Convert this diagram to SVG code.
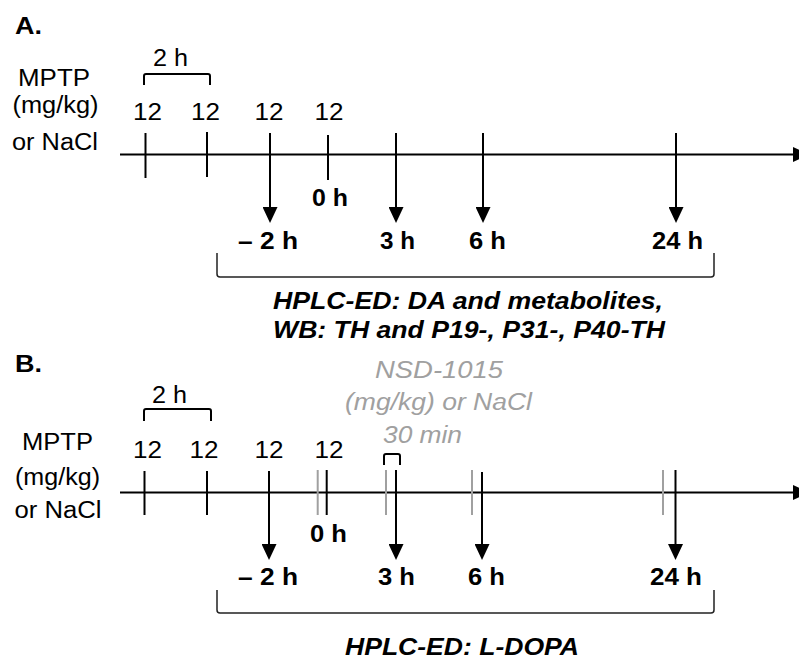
<svg xmlns="http://www.w3.org/2000/svg" width="799" height="661" viewBox="0 0 799 661">
<style>
text{font-family:"Liberation Sans",Arial,sans-serif;fill:#000}
.lab{font-size:23px}
.b{font-size:23px;font-weight:bold}
.bi{font-size:23px;font-weight:bold;font-style:italic}
.g{font-size:23px;font-style:italic;fill:#a0a0a0}
.c{text-anchor:middle}
.ln{stroke:#000;stroke-width:2;fill:none}
.gr{stroke:#a0a0a0;stroke-width:2;fill:none}
.br{stroke:#222;stroke-width:1.5;fill:none}
.ar{stroke:#000;stroke-width:2;fill:none;marker-end:url(#ah)}
</style>
<defs>
<marker id="ah" markerUnits="userSpaceOnUse" markerWidth="16" markerHeight="15" refX="13" refY="7.5" orient="auto">
<path d="M0,0 L16,7.5 L0,15 z" fill="#000"/>
</marker>
</defs>
<rect width="799" height="661" fill="#fff"/>

<g id="panelA">
<g id="A-title"><text class="b" x="15" y="34" textLength="27" lengthAdjust="spacingAndGlyphs">A.</text></g>
<g id="A-mptp">
<text class="lab c" x="54" y="86" textLength="72" lengthAdjust="spacingAndGlyphs">MPTP</text>
<text class="lab c" x="55.5" y="113" textLength="86" lengthAdjust="spacingAndGlyphs">(mg/kg)</text>
<text class="lab c" x="55" y="150" textLength="86" lengthAdjust="spacingAndGlyphs">or NaCl</text>
</g>
<g id="A-interval">
<text class="lab c" x="170.5" y="66" textLength="35" lengthAdjust="spacingAndGlyphs">2 h</text>
<path class="ln" d="M144,85 L144,76 Q144,74 146,74 L208,74 Q210,74 210,76 L210,85"/>
</g>
<g id="A-doses">
<text class="lab c" x="147.5" y="120" textLength="29" lengthAdjust="spacingAndGlyphs">12</text>
<text class="lab c" x="205.5" y="120" textLength="29" lengthAdjust="spacingAndGlyphs">12</text>
<text class="lab c" x="269" y="120" textLength="29" lengthAdjust="spacingAndGlyphs">12</text>
<text class="lab c" x="329" y="120" textLength="29" lengthAdjust="spacingAndGlyphs">12</text>
</g>
<g id="A-times">
<text class="b c" x="330" y="206" textLength="36" lengthAdjust="spacingAndGlyphs">0 h</text>
<text class="b c" x="268" y="249" textLength="60" lengthAdjust="spacingAndGlyphs">– 2 h</text>
<text class="b c" x="397.5" y="249" textLength="35" lengthAdjust="spacingAndGlyphs">3 h</text>
<text class="b c" x="487.5" y="249" textLength="37" lengthAdjust="spacingAndGlyphs">6 h</text>
<text class="b c" x="677.5" y="249" textLength="51" lengthAdjust="spacingAndGlyphs">24 h</text>
</g>
<g id="A-analysis">
<path class="br" d="M217,253 L217,274 Q217,277 220,277 L711,277 Q714,277 714,274 L714,253"/>
<text class="bi c" x="468" y="309" textLength="390" lengthAdjust="spacingAndGlyphs">HPLC-ED: DA and metabolites,</text>
<text class="bi c" x="469" y="338" textLength="392" lengthAdjust="spacingAndGlyphs">WB: TH and P19-, P31-, P40-TH</text>
</g>
</g>

<g id="connectorsA">
<line class="ar" x1="120" y1="154.5" x2="806" y2="154.5"/>
<line class="ln" x1="145.5" y1="133" x2="145.5" y2="178"/>
<line class="ln" x1="207" y1="132" x2="207" y2="177"/>
<line class="ln" x1="328" y1="135" x2="328" y2="180"/>
<line class="ar" x1="270" y1="133" x2="270" y2="220"/>
<line class="ar" x1="396" y1="133" x2="396" y2="220"/>
<line class="ar" x1="483" y1="133" x2="483" y2="220"/>
<line class="ar" x1="676" y1="133" x2="676" y2="220"/>
</g>

<g id="panelB">
<g id="B-title"><text class="b" x="15" y="372" textLength="27" lengthAdjust="spacingAndGlyphs">B.</text></g>
<g id="B-mptp">
<text class="lab c" x="57.5" y="450" textLength="71" lengthAdjust="spacingAndGlyphs">MPTP</text>
<text class="lab c" x="57.5" y="485" textLength="85" lengthAdjust="spacingAndGlyphs">(mg/kg)</text>
<text class="lab c" x="58" y="518" textLength="87" lengthAdjust="spacingAndGlyphs">or NaCl</text>
</g>
<g id="B-interval">
<text class="lab c" x="169.5" y="403" textLength="35" lengthAdjust="spacingAndGlyphs">2 h</text>
<path class="ln" d="M144,421 L144,411 Q144,409 146,409 L209,409 Q211,409 211,411 L211,421"/>
</g>
<g id="B-doses">
<text class="lab c" x="147.5" y="458" textLength="29" lengthAdjust="spacingAndGlyphs">12</text>
<text class="lab c" x="204" y="458" textLength="29" lengthAdjust="spacingAndGlyphs">12</text>
<text class="lab c" x="269" y="458" textLength="29" lengthAdjust="spacingAndGlyphs">12</text>
<text class="lab c" x="329" y="458" textLength="29" lengthAdjust="spacingAndGlyphs">12</text>
</g>
<g id="B-nsd">
<text class="g c" x="439" y="378" textLength="128" lengthAdjust="spacingAndGlyphs">NSD-1015</text>
<text class="g c" x="438.5" y="410" textLength="187" lengthAdjust="spacingAndGlyphs">(mg/kg) or NaCl</text>
<text class="g c" x="422.5" y="443" textLength="79" lengthAdjust="spacingAndGlyphs">30 min</text>
<path class="ln" d="M384,465 L384,456 Q384,454 386,454 L398,454 Q400,454 400,456 L400,465"/>
</g>
<g id="B-times">
<text class="b c" x="328.5" y="542" textLength="37" lengthAdjust="spacingAndGlyphs">0 h</text>
<text class="b c" x="268" y="585" textLength="60" lengthAdjust="spacingAndGlyphs">– 2 h</text>
<text class="b c" x="396.5" y="585" textLength="37" lengthAdjust="spacingAndGlyphs">3 h</text>
<text class="b c" x="486.5" y="585" textLength="37" lengthAdjust="spacingAndGlyphs">6 h</text>
<text class="b c" x="676" y="585" textLength="52" lengthAdjust="spacingAndGlyphs">24 h</text>
</g>
<g id="B-analysis">
<path class="br" d="M217,590 L217,610 Q217,613 220,613 L711,613 Q714,613 714,610 L714,590"/>
<text class="bi c" x="462" y="655" textLength="234" lengthAdjust="spacingAndGlyphs">HPLC-ED: L-DOPA</text>
</g>
</g>

<g id="connectorsB">
<line class="ar" x1="120" y1="492.5" x2="806" y2="492.5"/>
<line class="ln" x1="144.5" y1="471" x2="144.5" y2="515"/>
<line class="ln" x1="207" y1="471" x2="207" y2="515"/>
<line class="gr" x1="317.7" y1="470" x2="317.7" y2="515"/>
<line class="ln" x1="326.7" y1="470" x2="326.7" y2="515"/>
<line class="gr" x1="386" y1="470" x2="386" y2="515"/>
<line class="gr" x1="472" y1="470" x2="472" y2="515"/>
<line class="gr" x1="663" y1="470" x2="663" y2="515"/>
<line class="ar" x1="269" y1="471" x2="269" y2="557"/>
<line class="ar" x1="396" y1="470" x2="396" y2="557"/>
<line class="ar" x1="482" y1="472" x2="482" y2="557"/>
<line class="ar" x1="675.5" y1="470" x2="675.5" y2="557"/>
</g>
</svg>
